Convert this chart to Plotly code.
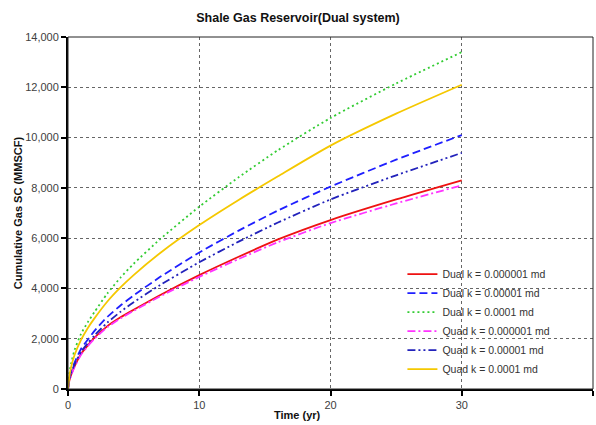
import plotly.graph_objects as go

time_yr = [0, 0.1, 0.25, 0.5, 1, 1.5, 2, 3, 4, 5, 7, 10, 13, 16, 20, 25, 30]

dual_k6 = [0, 330, 580, 900, 1400, 1730, 2030, 2500, 2850, 3150, 3730, 4530, 5260, 5950, 6720, 7540, 8300]
dual_k5 = [0, 400, 700, 1050, 1600, 1960, 2300, 2870, 3320, 3720, 4450, 5430, 6300, 7100, 8050, 9120, 10100]
dual_k4 = [0, 600, 1050, 1550, 2200, 2650, 3050, 3800, 4430, 4980, 5950, 7250, 8420, 9500, 10780, 12150, 13400]
quad_k6 = [0, 320, 560, 880, 1370, 1700, 1990, 2460, 2810, 3110, 3680, 4460, 5170, 5840, 6600, 7380, 8100]
quad_k5 = [0, 380, 650, 980, 1480, 1820, 2120, 2640, 3070, 3450, 4130, 5040, 5860, 6620, 7540, 8500, 9390]
quad_k4 = [0, 500, 900, 1350, 1960, 2420, 2800, 3480, 4040, 4530, 5400, 6520, 7520, 8460, 9680, 10950, 12100]

names = ["Dual k = 0.000001 md", "Dual k = 0.00001 md", "Dual k = 0.0001 md",
         "Quad k = 0.000001 md", "Quad k = 0.00001 md", "Quad k = 0.0001 md"]
series = [dual_k6, dual_k5, dual_k4, quad_k6, quad_k5, quad_k4]
colors = ["#ee1111", "#1f1fff", "#33cc33", "#ff33ff", "#2222bb", "#f5c800"]
dashes = ["solid", "8px,4px", "2px,3px", "8px,3px,2px,3px", "8px,3px,2px,3px,2px,3px", "solid"]

fig = go.Figure()
for n, s, c, d in zip(names, series, colors, dashes):
    fig.add_trace(go.Scatter(x=time_yr, y=s, mode="lines", name=n,
                             line=dict(color=c, dash=d, width=1.8, shape="spline", smoothing=0.6)))

font = "Arial, Liberation Sans, sans-serif"
fig.update_layout(
    width=596, height=425,
    margin=dict(l=68, r=3, t=37, b=36, autoexpand=False),
    paper_bgcolor="white", plot_bgcolor="white",
    font=dict(family=font, size=11, color="#404040"),
    title=dict(text="<b>Shale Gas Reservoir(Dual system)</b>", x=0.5, xref="container",
               xanchor="center", y=1 - 18 / 425, yanchor="middle",
               font=dict(size=12.5, color="#111111", family=font)),
    showlegend=True,
    legend=dict(x=0.637, xanchor="left", y=0.015, yanchor="bottom",
                bgcolor="rgba(0,0,0,0)", font=dict(size=10.5, color="#333333"),
                traceorder="normal"),
    xaxis=dict(range=[0, 40], tickvals=[0, 10, 20, 30, 40], showgrid=True,
               gridcolor="#666666", griddash="dot", gridwidth=1,
               showline=True, linecolor="black", linewidth=2,
               ticks="outside", ticklen=5, tickcolor="black", tickwidth=1.5,
               zeroline=False, fixedrange=True, automargin=False),
    yaxis=dict(range=[0, 14000], tickvals=[0, 2000, 4000, 6000, 8000, 10000, 12000, 14000],
               tickformat=",d", showgrid=True,
               gridcolor="#666666", griddash="dot", gridwidth=1,
               showline=True, linecolor="black", linewidth=2,
               ticks="outside", ticklen=5, tickcolor="black", tickwidth=1.5,
               zeroline=False, fixedrange=True, automargin=False),
    annotations=[
        dict(text="<b>Time (yr)</b>", xref="paper", yref="paper", x=0.438, y=-0.073,
             xanchor="center", yanchor="middle", showarrow=False,
             font=dict(size=11, color="#111111", family=font)),
        dict(text="<b>Cumulative Gas SC (MMSCF)</b>", xref="paper", yref="paper",
             x=-0.095, y=0.5, xanchor="center", yanchor="middle", textangle=-90,
             showarrow=False, font=dict(size=11, color="#111111", family=font)),
    ],
    shapes=[dict(type="rect", xref="paper", yref="paper", x0=0, y0=0, x1=1, y1=1,
                 line=dict(color="#222222", width=1), layer="above")],
)

fig.write_html("out.html", config={"displayModeBar": False},
               post_script="document.body.style.margin='0';document.body.style.padding='0';")
